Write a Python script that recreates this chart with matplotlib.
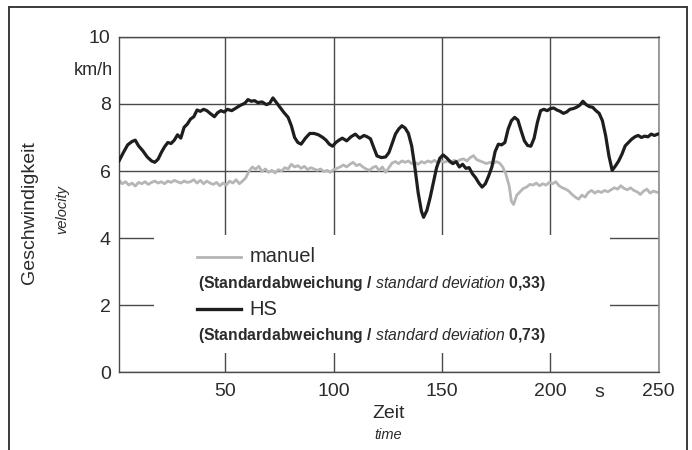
"""Geschwindigkeit ueber Zeit: manuel vs. HS."""

import matplotlib

matplotlib.use("Agg")

import matplotlib.pyplot as plt
from matplotlib.lines import Line2D
from matplotlib.patches import Rectangle

plt.rcParams["font.family"] = ["Liberation Sans", "DejaVu Sans"]
plt.rcParams["mathtext.fontset"] = "custom"
plt.rcParams["mathtext.rm"] = "Liberation Sans"
plt.rcParams["mathtext.it"] = "Liberation Sans:italic"
plt.rcParams["mathtext.bf"] = "Liberation Sans:bold"

# HS (black) series
hs_t = [1, 3, 5, 7, 8.5, 10, 12, 14, 16, 17.5, 19, 20.5, 22, 23.5, 25, 26.5,
        28, 29.5, 31, 32.5, 34, 35.5, 37, 38.5, 40, 41.5, 43, 45, 46.5, 48,
        49.5, 51, 53, 55, 57, 59, 60.5, 62, 63.5, 65, 67, 69, 70.5, 72, 73.5,
        75, 77, 79, 80.5, 82, 83.5, 85, 87, 89, 91, 93, 95, 96.5, 98, 99.5,
        101, 102.5, 104, 106, 108, 110, 112, 114, 115.5, 117, 118.5, 120, 122,
        124, 125.5, 127, 128.5, 130, 131.5, 133, 134.5, 136, 137.5, 139, 140.5,
        141.5, 143, 144.5, 146, 147.5, 149, 150.5, 152, 153.5, 155, 156.5, 158,
        159.5, 161, 162.5, 164, 165.5, 167, 168.5, 170, 171.5, 173, 174.5, 176,
        177.5, 179, 180.5, 182, 183.5, 185, 186.5, 188, 189.5, 191, 192.5, 194,
        195.5, 197, 198.5, 200, 201.5, 203, 204.5, 206, 207.5, 209, 210.5, 212,
        213.5, 215, 216.5, 218, 219.5, 221, 222.5, 224, 225.5, 227, 228.5, 230,
        231.5, 233, 234.5, 236, 237.5, 239, 240.5, 242, 243.5, 245, 246.5, 248,
        249.5]
hs_v = [6.30, 6.55, 6.78, 6.88, 6.92, 6.75, 6.60, 6.42, 6.30, 6.26, 6.35, 6.55,
        6.72, 6.85, 6.82, 6.92, 7.08, 6.98, 7.30, 7.40, 7.55, 7.62, 7.82, 7.78,
        7.84, 7.80, 7.72, 7.62, 7.74, 7.80, 7.76, 7.84, 7.80, 7.88, 7.96, 8.02,
        8.13, 8.08, 8.10, 8.04, 8.06, 7.98, 8.02, 8.18, 8.05, 7.92, 7.75, 7.60,
        7.35, 7.00, 6.85, 6.80, 6.98, 7.12, 7.12, 7.08, 7.00, 6.92, 6.80, 6.74,
        6.85, 6.92, 6.98, 6.90, 7.02, 7.10, 6.98, 7.06, 7.02, 6.96, 6.70, 6.45,
        6.40, 6.42, 6.55, 6.82, 7.10, 7.25, 7.35, 7.28, 7.12, 6.75, 6.10, 5.35,
        4.80, 4.62, 4.82, 5.20, 5.65, 6.10, 6.38, 6.48, 6.40, 6.30, 6.22, 6.28,
        6.12, 6.20, 6.08, 6.10, 5.92, 5.80, 5.64, 5.52, 5.62, 5.85, 6.12, 6.58,
        6.80, 6.78, 6.85, 7.25, 7.50, 7.60, 7.52, 7.20, 6.90, 6.76, 6.74, 6.98,
        7.45, 7.80, 7.84, 7.80, 7.86, 7.88, 7.82, 7.78, 7.72, 7.76, 7.84, 7.86,
        7.90, 7.96, 8.08, 7.98, 7.92, 7.90, 7.80, 7.72, 7.50, 7.05, 6.45, 6.02,
        6.15, 6.30, 6.50, 6.75, 6.85, 6.95, 7.02, 7.06, 7.00, 7.04, 7.02, 7.10,
        7.06, 7.10]

# manuel (grey) series
man_t = [1, 2.5, 4, 5.5, 7, 8.5, 10, 11.5, 13, 14.5, 16, 17.5, 19, 20.5, 22,
         23.5, 25, 26.5, 28, 29.5, 31, 32.5, 34, 35.5, 37, 38.5, 40, 41.5, 43,
         44.5, 46, 47.5, 49, 50.5, 52, 53.5, 55, 56.5, 58, 59.5, 61, 62.5, 64,
         65.5, 67, 68.5, 70, 71.5, 73, 74.5, 76, 77.5, 79, 80.5, 82, 83.5, 85,
         86.5, 88, 89.5, 91, 92.5, 94, 95.5, 97, 98.5, 100, 101.5, 103, 104.5,
         106, 107.5, 109, 110.5, 112, 113.5, 115, 116.5, 118, 119.5, 121, 122.5,
         124, 125.5, 127, 128.5, 130, 131.5, 133, 134.5, 136, 137.5, 139, 140.5,
         142, 143.5, 145, 146.5, 148, 149.5, 151, 152.5, 154, 155.5, 157, 158.5,
         160, 161.5, 163, 164.5, 166, 167.5, 169, 170.5, 172, 173.5, 175, 176.5,
         178, 179.5, 181, 182, 183, 184.5, 186, 187.5, 189, 190.5, 192, 193.5,
         195, 196.5, 198, 199.5, 201, 202.5, 204, 205.5, 207, 208.5, 210, 211.5,
         213, 214.5, 216, 217.5, 219, 220.5, 222, 223.5, 225, 226.5, 228, 229.5,
         231, 232.5, 234, 235.5, 237, 238.5, 240, 241.5, 243, 244.5, 246, 247.5,
         249.5]
man_v = [5.72, 5.62, 5.68, 5.58, 5.64, 5.55, 5.66, 5.62, 5.68, 5.60, 5.66, 5.70,
         5.64, 5.68, 5.62, 5.70, 5.66, 5.72, 5.68, 5.64, 5.70, 5.66, 5.68, 5.74,
         5.64, 5.72, 5.62, 5.70, 5.64, 5.60, 5.66, 5.56, 5.64, 5.58, 5.70, 5.64,
         5.74, 5.62, 5.70, 5.80, 6.00, 6.12, 6.05, 6.14, 5.98, 6.06, 5.96, 6.02,
         5.94, 6.04, 6.00, 6.10, 6.06, 6.20, 6.12, 6.16, 6.08, 6.14, 6.04, 6.10,
         6.06, 6.02, 6.06, 5.98, 6.02, 5.96, 6.04, 6.08, 6.12, 6.18, 6.12, 6.20,
         6.26, 6.16, 6.20, 6.12, 6.06, 6.02, 6.10, 6.14, 6.02, 6.12, 5.96, 6.10,
         6.24, 6.28, 6.22, 6.30, 6.26, 6.30, 6.22, 6.26, 6.20, 6.28, 6.24, 6.30,
         6.26, 6.32, 6.24, 6.30, 6.26, 6.30, 6.24, 6.32, 6.28, 6.34, 6.36, 6.30,
         6.40, 6.46, 6.34, 6.30, 6.26, 6.22, 6.26, 6.22, 6.28, 6.24, 6.12, 5.90,
         5.55, 5.10, 5.00, 5.28, 5.38, 5.48, 5.52, 5.60, 5.58, 5.64, 5.56, 5.62,
         5.58, 5.66, 5.62, 5.68, 5.56, 5.50, 5.46, 5.40, 5.30, 5.22, 5.16, 5.28,
         5.22, 5.36, 5.42, 5.34, 5.40, 5.36, 5.42, 5.38, 5.44, 5.50, 5.46, 5.56,
         5.48, 5.44, 5.50, 5.42, 5.38, 5.30, 5.40, 5.46, 5.34, 5.40, 5.36]

x_ticks = [50, 100, 150, 200, 250]
y_ticks = [0, 2, 4, 6, 8, 10]
std_manuel = "0,33"
std_hs = "0,73"

GRID = "#4a4a4a"
TEXT = "#2b2b2b"

fig = plt.figure(figsize=(6.92, 4.5), dpi=100)
ax = fig.add_axes([0.172, 0.173, 0.78, 0.745])

ax.set_xlim(1, 249.5)
ax.set_ylim(0, 10)
ax.set_xticks(x_ticks)
ax.set_yticks(y_ticks)
ax.tick_params(length=0, labelsize=14, colors=TEXT, pad=6)
ax.tick_params(axis="x", pad=8)
ax.set_axisbelow(True)
ax.grid(True, color=GRID, linewidth=1.0)
for side in ("left", "top", "bottom"):
    ax.spines[side].set_color(GRID)
    ax.spines[side].set_linewidth(1.0)
ax.spines["right"].set_color("#8c8c8c")
ax.spines["right"].set_linewidth(1.2)

# white panel behind the legend block hides the grid there
ax.add_patch(Rectangle((17, 0.57), 210.5, 3.53, facecolor="white",
                       edgecolor="none", zorder=1))

ax.plot(man_t, man_v, color="#b6b6b6", linewidth=2.0, zorder=2)
ax.plot(hs_t, hs_v, color="#1e1e1e", linewidth=2.3, zorder=3)

# hand-made legend
ax.plot([37.2, 57.5], [3.44, 3.44], color="#b6b6b6", linewidth=2.0, zorder=3)
ax.text(61.3, 3.44, "manuel", fontsize=14.5, color=TEXT, va="center", zorder=3)
ax.plot([37.2, 57.5], [1.88, 1.88], color="#1e1e1e", linewidth=2.4, zorder=3)
ax.text(61.3, 1.88, "HS", fontsize=14.5, color=TEXT, va="center", zorder=3)
for yy, val in ((2.63, std_manuel), (1.1, std_hs)):
    ax.text(37.4, yy,
            r"(Standardabweichung / $\it{standard\ deviation}$ " + val + ")",
            fontsize=11.3, fontweight="bold", color=TEXT, va="center",
            zorder=3)

ax.text(222.5, -0.6, "s", fontsize=14, color=TEXT, ha="center", va="center")
ax.text(-1.8, 9.0, "km/h", fontsize=13, color=TEXT, ha="right", va="center",
        clip_on=False)

fig.text(0.561, 0.082, "Zeit", fontsize=14, color=TEXT, ha="center",
         va="center")
fig.text(0.561, 0.034, "time", fontsize=10.5, style="italic", color=TEXT,
         ha="center", va="center")
fig.text(0.043, 0.527, "Geschwindigkeit", fontsize=14, color=TEXT,
         rotation=90, ha="center", va="center")
fig.text(0.09, 0.535, "velocity", fontsize=10.5, style="italic", color=TEXT,
         rotation=90, ha="center", va="center")

# frame around the whole picture (open at the bottom)
frame = dict(color="#3a3a3a", linewidth=1.4, transform=fig.transFigure)
fig.add_artist(Line2D([0.013, 0.013], [0, 0.984], **frame))
fig.add_artist(Line2D([0.993, 0.993], [0, 0.984], **frame))
fig.add_artist(Line2D([0.013, 0.993], [0.984, 0.984], **frame))

fig.savefig("out.png", dpi=100, facecolor="white")
